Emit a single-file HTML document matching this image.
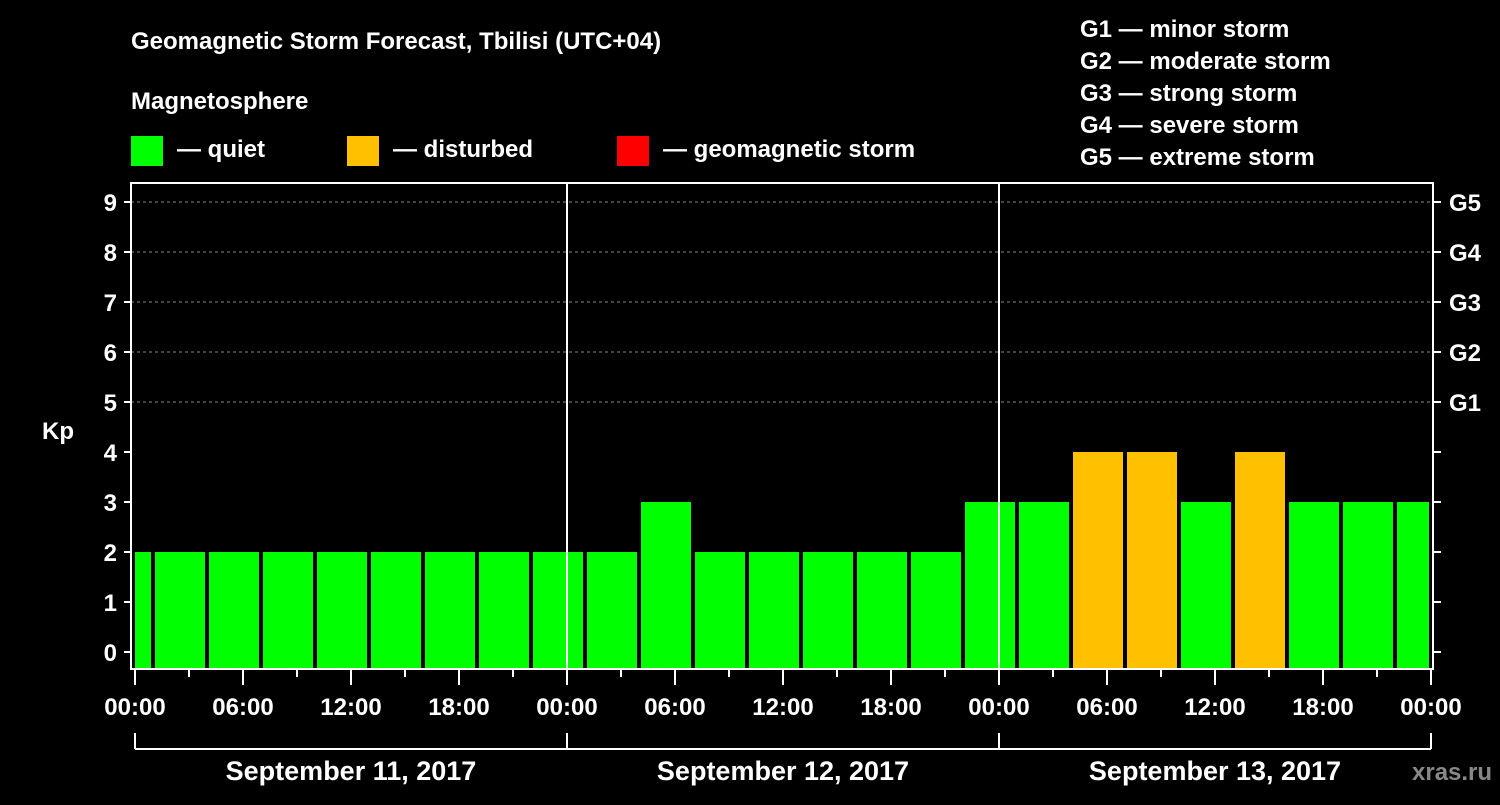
<!DOCTYPE html>
<html><head><meta charset="utf-8"><style>
body{margin:0;background:#000;width:1500px;height:800px;overflow:hidden}
text{font-family:"Liberation Sans",sans-serif;font-weight:bold;fill:#fff}
</style></head><body>
<svg width="1500" height="800">
<text x="131" y="49" font-size="24">Geomagnetic Storm Forecast, Tbilisi (UTC+04)</text>
<text x="131" y="109" font-size="24">Magnetosphere</text>
<rect x="131" y="136" width="32" height="30" fill="#00ff00"/>
<text x="177" y="157" font-size="24">— quiet</text>
<rect x="347" y="136" width="32" height="30" fill="#ffc000"/>
<text x="393" y="157" font-size="24">— disturbed</text>
<rect x="617" y="136" width="32" height="30" fill="#ff0000"/>
<text x="663" y="157" font-size="24">— geomagnetic storm</text>
<g font-size="24">
<text x="1080" y="37">G1 — minor storm</text>
<text x="1080" y="69">G2 — moderate storm</text>
<text x="1080" y="101">G3 — strong storm</text>
<text x="1080" y="133">G4 — severe storm</text>
<text x="1080" y="165">G5 — extreme storm</text>
</g>
<g id="plot"></g>
<text x="1412" y="780" font-size="24" fill="#888" style="fill:#888">xras.ru</text>
</svg>
<script>
const kpValues=[2,2,2,2,2,2,2,2,2,2,3,2,2,2,2,2,3,3,4,4,3,4,3,3,3];
const yTicks=[0,1,2,3,4,5,6,7,8,9];
const gLabels=["G1","G2","G3","G4","G5"];
const dayLabels=["September 11, 2017","September 12, 2017","September 13, 2017"];
const xTickLabels=["00:00","06:00","12:00","18:00","00:00","06:00","12:00","18:00","00:00","06:00","12:00","18:00","00:00"];
const NS="http://www.w3.org/2000/svg",g=document.getElementById('plot');
const X0=135,PXH=18,Y0=652,PXK=50,TOP=183,BOT=669,L=131,R=1433;
const xs=h=>X0+h*PXH, ys=k=>Y0-k*PXK;
function el(t,a,p){const e=document.createElementNS(NS,t);for(const k in a)e.setAttribute(k,a[k]);(p||g).appendChild(e);return e;}
// grid
for(let k=5;k<=9;k++){const e=el('line',{x1:L,x2:R,y1:ys(k),y2:ys(k),stroke:'#888','stroke-dasharray':'3,3','stroke-width':1});

}
// bars: first bin starts at -3h (UTC offset 4h => local 01:00 boundaries)
kpValues.forEach((v,i)=>{let s=-2+i*3,e2=s+3;let x1=Math.max(xs(s)+2,X0),x2=Math.min(xs(e2)-2,xs(72)-2);
const r=el('rect',{x:x1,y:ys(v),width:x2-x1,height:BOT-ys(v),fill:v>=5?'#ff0000':v>=4?'#ffc000':'#00ff00'});

});
// day separators
[24,48].forEach(h=>{const e=el('line',{x1:xs(h),x2:xs(h),y1:TOP,y2:BOT,stroke:'#fff','stroke-width':2});

});
// frame
const f=el('rect',{x:L,y:TOP,width:R-L,height:BOT-TOP,fill:'none',stroke:'#fff','stroke-width':2});


// y ticks
yTicks.forEach(k=>{el('line',{x1:L-7,x2:L,y1:ys(k),y2:ys(k),stroke:'#fff','stroke-width':2});
el('line',{x1:R,x2:R+8,y1:ys(k),y2:ys(k),stroke:'#fff','stroke-width':2});
const t=el('text',{x:117,y:ys(k)+9,'font-size':24,'text-anchor':'end'});t.textContent=k;

});
gLabels.forEach((s,i)=>{const t=el('text',{x:1449,y:ys(5+i)+9,'font-size':24});t.textContent=s;

});
const kp=el('text',{x:42,y:439,'font-size':24});kp.textContent='Kp';


// x ticks
for(let h=0;h<=72;h+=3){const maj=h%6==0;el('line',{x1:xs(h),x2:xs(h),y1:BOT,y2:BOT+(maj?16:8),stroke:'#fff','stroke-width':2});}
xTickLabels.forEach((s,i)=>{const t=el('text',{x:xs(i*6),y:715,'font-size':24,'text-anchor':'middle'});t.textContent=s;

});
// bracket
el('line',{x1:xs(0),x2:xs(72),y1:749,y2:749,stroke:'#fff','stroke-width':2});
[0,24,48,72].forEach(h=>el('line',{x1:xs(h),x2:xs(h),y1:733,y2:749,stroke:'#fff','stroke-width':2}));
dayLabels.forEach((s,i)=>{const t=el('text',{x:xs(i*24+12),y:780,'font-size':27,'text-anchor':'middle'});t.textContent=s;

});
</script>
</body></html>
